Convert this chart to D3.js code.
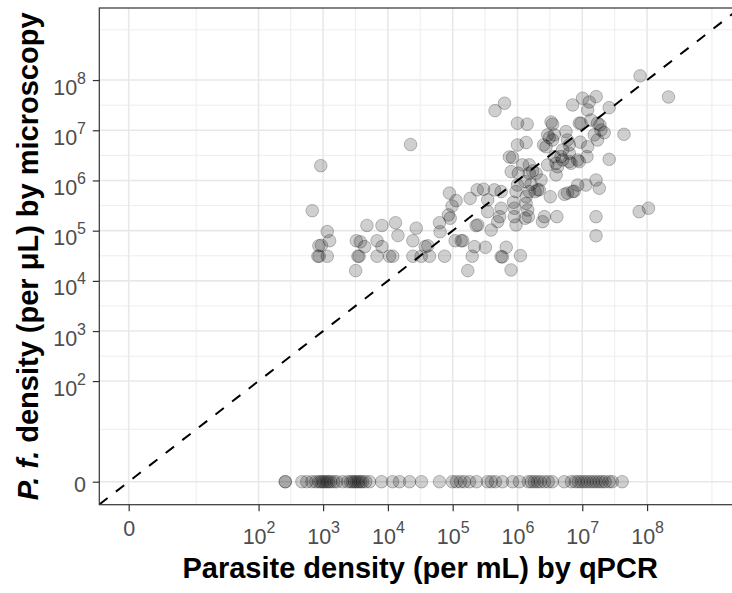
<!DOCTYPE html>
<html>
<head>
<meta charset="utf-8">
<script src="https://cdn.jsdelivr.net/npm/d3@7"></script>
<style>
  body { margin: 0; background: #fff; }
  svg { display: block; font-family: "Liberation Sans", Arial, sans-serif; }
</style>
</head>
<body>
<div id="chart"></div>
<script>
// parasite density by qPCR (per mL) and by microscopy (per uL), positive smears
var qpcr = [
  9.2e2, 6.8e2, 1.16e3, 1.26e3, 8.6e2, 9.4e2, 8.3e2, 8.7e2, 1.16e3, 3.18e3,
  4.75e3, 8.1e3, 1.31e4, 1.43e4, 3.26e3, 3.76e3, 4.37e3, 6.8e3, 8.1e3, 3.45e3,
  3.6e3, 6.8e3, 1.06e4, 1.19e4, 2.24e4, 2.43e4, 2.74e4, 2.43e4, 3.27e4, 3.77e4,
  4.13e4, 4.39e4, 7.5e4, 6.27e4, 6.4e4, 8.9e4, 1.13e5, 9.8e4, 8.6e4, 9.15e4,
  1.09e5, 1.35e5, 1.43e5, 1.86e5, 2.39e5, 2.3e5, 2.17e5, 2.0e5, 1.71e5, 2.44e5,
  3.0e5, 3.47e5, 4.4e5, 5.6e5, 3.47e5, 5.6e5, 5.3e5, 4.95e5, 3.92e5, 3.2e5,
  6.7e5, 5.6e5, 5.85e5, 1.11e6, 7.96e5, 4.5e5, 6.3e5, 1.0e6, 1.41e6, 1.0e6,
  1.36e6, 7.5e5, 8.4e5, 8.0e5, 1.03e6, 1.52e6, 1.52e6, 1.71e6, 1.2e6, 1.31e6,
  1.62e6, 1.52e6, 1.36e6, 2.31e6, 1.87e6, 2.05e6, 1.0e6, 9.5e5, 8.7e5, 8.95e5,
  1.36e6, 1.44e6, 1.31e6, 3.21e6, 8.95e5, 9.5e5, 1.47e6, 2.6e6, 2.44e6, 4.05e6,
  2.17e6, 1.94e6, 3.3e6, 3.48e6, 2.92e6, 3.1e6, 3.48e6, 3.7e6, 2.53e6, 2.76e6,
  5.6e6, 5.9e6, 6.3e6, 4.97e6, 4.7e6, 3.7e6, 3.94e6, 4.16e6, 2.92e6, 3.94e6,
  6.3e6, 6.7e6, 8.5e6, 1.18e7, 9.3e6, 1.21e7, 7.1e6, 1.01e7, 1.28e7, 1.64e7,
  1.21e7, 9.55e6, 1.36e7, 1.72e7, 1.94e7, 1.53e7, 1.72e7, 5.9e6, 7.1e6, 7.5e6,
  8.5e6, 1.14e7, 5.3e6, 1.63e7, 1.83e7, 1.63e7, 1.63e7, 2.6e7, 4.4e7, 2.6e7,
  9.0e6, 1.87e7, 2.18e7, 7.8e7, 2.14e8, 7.55e7, 1.05e8, 9.0e6, 6.3e6, 4.97e6
];
var micro = [
  1.97e6, 2.5e5, 9.6e4, 6.3e4, 5.0e4, 5.1e4, 3.1e4, 3.1e4, 3.1e4, 1.6e4,
  1.27e5, 1.27e5, 1.44e5, 8.0e4, 6.3e4, 6.0e4, 4.8e4, 6.3e4, 4.8e4, 3.1e4,
  3.1e4, 3.1e4, 3.1e4, 3.1e4, 5.2e6, 6.3e4, 1.12e5, 3.1e4, 3.1e4, 4.8e4,
  5.0e4, 3.1e4, 3.1e4, 1.44e5, 9.5e4, 5.6e5, 3.96e5, 3.1e5, 2.06e5, 1.77e5,
  6.3e4, 6.3e4, 6.3e4, 4.4e5, 6.5e5, 1.26e5, 4.8e4, 3.1e4, 1.6e4, 1.3e5,
  6.7e5, 4.1e5, 6.5e5, 6.0e5, 2.39e5, 2.8e5, 1.9e5, 1.51e5, 1.03e5, 4.67e4,
  4.67e4, 3.03e4, 3.0e4, 3.18e4, 1.65e4, 2.46e7, 3.45e7, 1.38e7, 1.32e7, 5.1e6,
  5.7e6, 2.94e6, 2.87e6, 1.5e6, 1.39e6, 2.04e6, 1.39e6, 1.55e6, 2.04e6, 9.5e5,
  8.4e5, 6.0e5, 4.75e5, 1.02e6, 6.0e5, 6.5e5, 8.1e5, 6.0e5, 3.68e5, 2.8e5,
  3.5e5, 2.58e5, 1.77e5, 4.75e5, 1.9e5, 1.3e5, 1.9e5, 1.9e5, 1.51e5, 1.9e5,
  6.5e5, 1.39e6, 1.46e7, 1.32e7, 8.1e6, 7.1e6, 6.4e6, 8.1e6, 5.1e6, 4.7e6,
  9.4e6, 6.4e6, 5.1e6, 4.05e6, 2.98e6, 2.98e6, 2.2e6, 1.88e6, 2.04e6, 1.29e6,
  2.37e6, 2.2e6, 2.56e6, 2.98e6, 5.8e6, 4.7e6, 3.19e7, 4.34e7, 3.66e7, 4.67e7,
  2.54e7, 1.38e7, 1.6e7, 1.38e7, 1.01e7, 8.1e6, 6.4e6, 5.6e5, 6.0e5, 6.1e5,
  8.1e5, 8.1e5, 5.3e5, 1.02e6, 7.0e5, 1.9e5, 7.9e4, 2.82e7, 8.3e6, 2.64e6,
  1.38e7, 1.28e7, 8.95e6, 1.21e8, 4.6e7, 2.39e5, 2.8e5, 2.37e6, 3.48e6, 2.56e6
];
// qPCR density of samples with a negative smear (microscopy = 0)
var qpcrSmearNeg = [
  2.6e2, 2.6e2, 4.7e2, 5.6e2, 6.7e2, 7.7e2, 8.6e2, 9.2e2, 9.9e2, 1.06e3,
  1.14e3, 1.22e3, 1.31e3, 1.46e3, 1.62e3, 2.0e3, 2.39e3, 2.66e3, 2.86e3, 3.07e3,
  3.29e3, 3.53e3, 3.79e3, 4.07e3, 4.53e3, 5.22e3, 8.0e3, 1.18e4, 1.51e4, 2.16e4,
  3.3e4, 6.25e4, 9.9e4, 1.14e5, 1.32e5, 1.52e5, 1.82e5, 2.33e5, 3.44e5, 3.96e5,
  4.57e5, 5.86e5, 8.4e5, 1.07e6, 1.47e6, 1.64e6, 1.82e6, 2.03e6, 2.25e6, 2.6e6,
  2.99e6, 3.45e6, 5.28e6, 6.78e6, 7.8e6, 8.67e6, 9.66e6, 1.07e7, 1.19e7, 1.33e7,
  1.48e7, 1.64e7, 1.83e7, 2.03e7, 2.26e7, 2.61e7, 2.9e7, 4.13e7
];

var majorBreaks = [0, 1e2, 1e3, 1e4, 1e5, 1e6, 1e7, 1e8];
var minorBreaks = [1e1, 3.16e2, 3.16e3, 3.16e4, 3.16e5, 3.16e6, 3.16e7, 1e9];
var xTitle = "Parasite density (per mL) by qPCR";

(function() {
  var W = 732, H = 593;
  var pL = 99.3, pR = 741, pT = 8, pB = 504.7;

  // pseudo-log (log10(1 + x)) limits of the panel, in decades
  function inv(t) { return t < 0 ? -(Math.pow(10, -t) - 1) : Math.pow(10, t) - 1; }

  var x = d3.scaleSymlog().constant(1)
    .domain([inv(-0.4535), inv(9.4495)])
    .range([pL, pR]);
  var y = d3.scaleSymlog().constant(1)
    .domain([inv(-0.458), inv(9.435)])
    .range([pB, pT]);

  var svg = d3.select("#chart").append("svg")
    .attr("width", W).attr("height", H);

  svg.append("clipPath").attr("id", "panel")
    .append("rect")
    .attr("x", pL).attr("y", pT)
    .attr("width", pR - pL).attr("height", pB - pT);

  var grid = svg.append("g");
  grid.selectAll(".xmin").data(minorBreaks).enter().append("line")
    .attr("x1", x).attr("x2", x).attr("y1", pT).attr("y2", pB)
    .attr("stroke", "#ebebeb").attr("stroke-width", 0.9);
  grid.selectAll(".ymin").data(minorBreaks).enter().append("line")
    .attr("y1", y).attr("y2", y).attr("x1", pL).attr("x2", pR)
    .attr("stroke", "#ebebeb").attr("stroke-width", 0.9);
  grid.selectAll(".xmaj").data(majorBreaks).enter().append("line")
    .attr("x1", x).attr("x2", x).attr("y1", pT).attr("y2", pB)
    .attr("stroke", "#e8e8e8").attr("stroke-width", 1.6);
  grid.selectAll(".ymaj").data(majorBreaks).enter().append("line")
    .attr("y1", y).attr("y2", y).attr("x1", pL).attr("x2", pR)
    .attr("stroke", "#e8e8e8").attr("stroke-width", 1.6);

  var pts = qpcr.map(function(q, i) { return { q: q, m: micro[i] }; })
    .concat(qpcrSmearNeg.map(function(q) { return { q: q, m: 0 }; }));

  svg.append("g").attr("clip-path", "url(#panel)")
    .selectAll("circle").data(pts).enter().append("circle")
    .attr("cx", function(d) { return x(d.q); })
    .attr("cy", function(d) { return y(d.m); })
    .attr("r", 6.3)
    .attr("fill", "#000").attr("fill-opacity", 0.19)
    .attr("stroke", "#000").attr("stroke-opacity", 0.24).attr("stroke-width", 1);

  // line of identity
  var ident = x.domain();
  svg.append("path").attr("clip-path", "url(#panel)")
    .datum([ident[0], ident[1]])
    .attr("d", d3.line().x(function(d) { return x(d); }).y(function(d) { return y(d); }))
    .attr("fill", "none").attr("stroke", "#000")
    .attr("stroke-width", 2).attr("stroke-dasharray", "10.5,10.5");

  svg.append("rect")
    .attr("x", pL).attr("y", pT)
    .attr("width", pR - pL).attr("height", pB - pT)
    .attr("fill", "none").attr("stroke", "#333").attr("stroke-width", 1.2);

  function label(sel) {
    sel.each(function(d) {
      var t = d3.select(this).text(null);
      if (d === 0) { t.text("0"); return; }
      t.append("tspan").text("10");
      t.append("tspan").attr("font-size", "16px").attr("dy", -11)
        .text(Math.round(Math.log10(d)));
    });
  }

  var gx = svg.append("g").attr("transform", "translate(0," + pB + ")")
    .call(d3.axisBottom(x).tickValues(majorBreaks).tickSize(6.5).tickPadding(4));
  gx.select(".domain").remove();
  gx.selectAll(".tick line").attr("stroke", "#333").attr("stroke-width", 1.2);
  gx.selectAll(".tick text")
    .attr("dy", null)
    .attr("y", function(d) { return d === 0 ? 31.5 : 39.5; })
    .attr("font-size", "21.5px").attr("fill", "#4d4d4d")
    .call(label);

  var gy = svg.append("g").attr("transform", "translate(" + pL + ",0)")
    .call(d3.axisLeft(y).tickValues(majorBreaks).tickSize(6.5).tickPadding(4));
  gy.select(".domain").remove();
  gy.selectAll(".tick line").attr("stroke", "#333").attr("stroke-width", 1.2);
  gy.selectAll(".tick text")
    .attr("dy", null)
    .attr("x", -13.3)
    .attr("y", function(d) { return d === 0 ? 9.5 : 14; })
    .attr("font-size", "21.5px").attr("fill", "#4d4d4d")
    .call(label);

  svg.append("text")
    .attr("x", (pL + pR) / 2).attr("y", 578)
    .attr("text-anchor", "middle")
    .attr("font-size", "29px").attr("font-weight", "bold")
    .text(xTitle);

  var yt = svg.append("text")
    .attr("transform", "translate(38," + ((pT + pB) / 2) + ") rotate(-90)")
    .attr("text-anchor", "middle")
    .attr("font-size", "29px").attr("font-weight", "bold");
  yt.append("tspan").attr("font-style", "italic").text("P. f.");
  yt.append("tspan").text(" density (per \u03bcL) by microscopy");
})();
</script>
</body>
</html>
